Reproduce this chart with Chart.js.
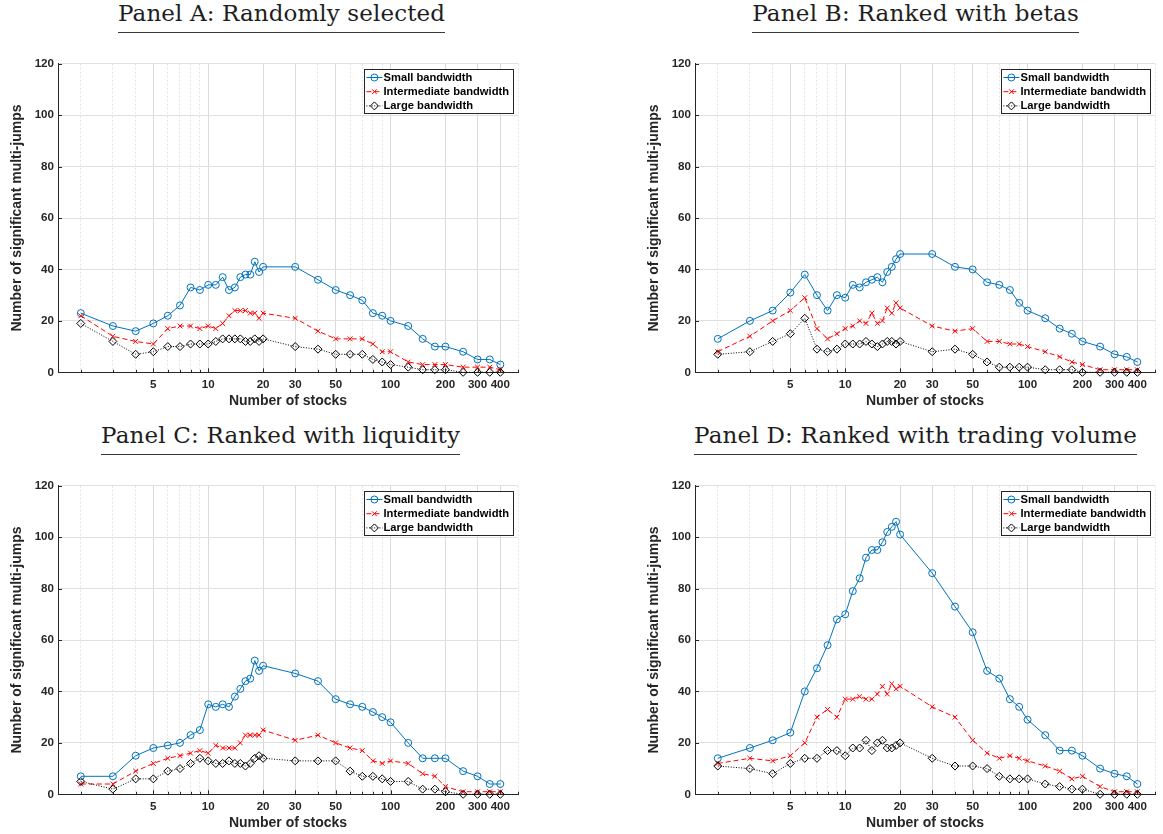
<!DOCTYPE html>
<html>
<head>
<meta charset="utf-8">
<script src="https://cdn.jsdelivr.net/npm/chart.js@4.4.1/dist/chart.umd.min.js"></script>
<style>
  html, body { margin: 0; padding: 0; background: #fff; width: 1163px; height: 834px; overflow: hidden; }
  canvas { position: absolute; }
  .ptitle {
    position: absolute; font-family: 'DejaVu Serif', 'Liberation Serif', serif; font-size: 23px;
    line-height: 23px; color: #1e1e1e; text-align: center; white-space: nowrap;
    border-bottom: 1.4px solid #3a3a3a; padding-bottom: 7px;
  }
</style>
</head>
<body>
<div class="ptitle" id="tA" style="left:118px; top:2px; width:327px;"><span>Panel A: Randomly selected</span></div>
<div class="ptitle" id="tB" style="left:752px; top:2px; width:327px;"><span>Panel B: Ranked with betas</span></div>
<div class="ptitle" id="tC" style="left:101px; top:424px; width:359px;"><span>Panel C: Ranked with liquidity</span></div>
<div class="ptitle" id="tD" style="left:694px; top:424px; width:443px;"><span>Panel D: Ranked with trading volume</span></div>

<canvas id="cA" width="530" height="372" style="left:0px; top:40px;"></canvas>
<canvas id="cB" width="530" height="372" style="left:637px; top:40px;"></canvas>
<canvas id="cC" width="530" height="372" style="left:0px; top:462px;"></canvas>
<canvas id="cD" width="530" height="372" style="left:637px; top:462px;"></canvas>

<script>
// Portfolio sizes (number of stocks) on the horizontal axis
const STOCKS = [2, 3, 4, 5, 6, 7, 8, 9, 10, 11, 12, 13, 14, 15, 16, 17, 18, 19, 20,
                30, 40, 50, 60, 70, 80, 90, 100, 125, 150, 175, 200, 250, 300, 350, 400];

const SERIES_LABELS = ['Small bandwidth', 'Intermediate bandwidth', 'Large bandwidth'];

// Panel A: randomly selected
const A_SMALL = [23, 18, 16, 19, 22, 26, 33, 32, 34, 34, 37, 32, 33, 37, 38, 38, 43, 39, 41,
                 41, 36, 32, 30, 28, 23, 22, 20, 18, 13, 10, 10, 8, 5, 5, 3];
const A_INTER = [22, 14, 12, 11, 17, 18, 18, 17, 18, 17, 19, 22, 24, 24, 24, 23, 23, 21, 23,
                 21, 16, 13, 13, 13, 11, 8, 8, 4, 3, 3, 3, 2, 2, 2, 1];
const A_LARGE = [19, 12, 7, 8, 10, 10, 11, 11, 11, 12, 13, 13, 13, 13, 12, 12, 13, 12, 13,
                 10, 9, 7, 7, 7, 5, 4, 3, 2, 1, 1, 1, 0, 0, 0, 0];

// Panel B: ranked with betas
const B_SMALL = [13, 20, 24, 31, 38, 30, 24, 30, 29, 34, 33, 35, 36, 37, 35, 39, 41, 44, 46,
                 46, 41, 40, 35, 34, 32, 27, 24, 21, 17, 15, 12, 10, 7, 6, 4];
const B_INTER = [8, 14, 20, 24, 29, 17, 13, 15, 17, 18, 20, 19, 23, 19, 20, 25, 23, 27, 25,
                 18, 16, 17, 12, 12, 11, 11, 10, 8, 6, 4, 3, 1, 1, 1, 1];
const B_LARGE = [7, 8, 12, 15, 21, 9, 8, 9, 11, 11, 11, 12, 11, 10, 11, 12, 12, 11, 12,
                 8, 9, 7, 4, 2, 2, 2, 2, 1, 1, 1, 0, 0, 0, 0, 0];

// Panel C: ranked with liquidity
const C_SMALL = [7, 7, 15, 18, 19, 20, 23, 25, 35, 34, 35, 34, 38, 41, 44, 45, 52, 48, 50,
                 47, 44, 37, 35, 34, 32, 30, 28, 20, 14, 14, 14, 9, 7, 4, 4];
const C_INTER = [4, 4, 9, 12, 14, 15, 16, 17, 16, 19, 18, 18, 18, 20, 23, 23, 23, 23, 25,
                 21, 23, 20, 18, 17, 13, 12, 13, 12, 8, 7, 3, 1, 1, 1, 1];
const C_LARGE = [5, 2, 6, 6, 9, 10, 12, 14, 13, 12, 12, 13, 12, 12, 11, 12, 14, 15, 14,
                 13, 13, 13, 9, 7, 7, 6, 5, 5, 2, 2, 1, 0, 0, 0, 0];

// Panel D: ranked with trading volume
const D_SMALL = [14, 18, 21, 24, 40, 49, 58, 68, 70, 79, 84, 92, 95, 95, 98, 102, 104, 106, 101,
                 86, 73, 63, 48, 45, 37, 34, 29, 23, 17, 17, 15, 10, 8, 7, 4];
const D_INTER = [12, 14, 13, 15, 20, 30, 33, 30, 37, 37, 38, 37, 37, 39, 42, 39, 43, 41, 42,
                 34, 30, 21, 16, 14, 15, 14, 13, 11, 9, 6, 7, 3, 1, 1, 1];
const D_LARGE = [11, 10, 8, 12, 14, 14, 17, 17, 15, 18, 18, 21, 17, 20, 21, 18, 18, 19, 20,
                 14, 11, 11, 10, 7, 6, 6, 6, 4, 3, 2, 2, 0, 0, 0, 0];

// Axis ticks
const X_LABELS = [5, 10, 20, 30, 50, 100, 200, 300, 400];
const X_GRID = [2, 3, 4, 5, 6, 7, 8, 9, 10, 20, 30, 40, 50, 60, 70, 80, 90, 100, 200, 300, 400, 500];
const Y_TICKS = [0, 20, 40, 60, 80, 100, 120];

const AXIS_COLOR = '#262626';
const SANS = '"Liberation Sans", Arial, Helvetica, sans-serif';
Chart.defaults.font.family = SANS;

function drawMarker(ctx, style, radius, color, x, y) {
  ctx.save();
  ctx.setLineDash([]);
  ctx.strokeStyle = color; ctx.lineWidth = 1;
  ctx.beginPath();
  if (style === 'circle') {
    ctx.arc(x, y, radius, 0, Math.PI * 2);
  } else if (style === 'crossRot') {
    const d = radius * Math.SQRT1_2;
    ctx.moveTo(x - d, y - d); ctx.lineTo(x + d, y + d);
    ctx.moveTo(x + d, y - d); ctx.lineTo(x - d, y + d);
  } else {
    ctx.moveTo(x, y - radius); ctx.lineTo(x + radius, y);
    ctx.lineTo(x, y + radius); ctx.lineTo(x - radius, y); ctx.closePath();
  }
  ctx.stroke();
  ctx.restore();
}

// inward tick marks and the boxed legend in the upper right of each panel
const panelDecor = {
  id: 'panelDecor',
  afterDatasetsDraw(chart) {
    const { ctx, chartArea: a, scales: { x, y } } = chart;
    ctx.save();
    ctx.strokeStyle = AXIS_COLOR; ctx.lineWidth = 1;
    ctx.beginPath();
    for (const v of Y_TICKS) {
      const py = Math.round(y.getPixelForValue(v)) + 0.5;
      ctx.moveTo(a.left, py); ctx.lineTo(a.left + 4, py);
    }
    for (const v of X_GRID) {
      const px = Math.round(x.getPixelForValue(v)) + 0.5;
      ctx.moveTo(px, a.bottom); ctx.lineTo(px, a.bottom - (X_LABELS.includes(v) ? 4 : 2.5));
    }
    ctx.stroke();

    // legend
    const sets = chart.data.datasets;
    ctx.font = 'bold 11.2px ' + SANS;
    const tw = Math.max(...sets.map(d => ctx.measureText(d.label).width));
    const w = Math.round(19.5 + tw + 4), h = 44;
    const bx = Math.round(a.right - 4.7 - w), by = Math.round(a.top + 5);
    ctx.fillStyle = '#fff';
    ctx.fillRect(bx, by, w, h);
    ctx.strokeStyle = AXIS_COLOR;
    ctx.strokeRect(bx + 0.5, by + 0.5, w, h);
    sets.forEach((d, i) => {
      const cy = by + 8.5 + i * 14.2;
      ctx.save();
      ctx.strokeStyle = d.borderColor; ctx.lineWidth = 1;
      ctx.setLineDash(d.borderDash || []);
      ctx.beginPath(); ctx.moveTo(bx + 2.4, cy); ctx.lineTo(bx + 18.4, cy); ctx.stroke();
      ctx.restore();
      drawMarker(ctx, d.pointStyle, d.pointRadius, d.pointBorderColor, bx + 10.4, cy);
      ctx.fillStyle = '#000';
      ctx.textBaseline = 'middle'; ctx.textAlign = 'left';
      ctx.fillText(d.label, bx + 19.5, cy + 0.5);
    });
    ctx.restore();
  }
};

function panelConfig(small, inter, large) {
  const pts = vals => STOCKS.map((s, i) => ({ x: s, y: vals[i] }));
  const common = { borderWidth: 1, tension: 0, clip: false, fill: false, pointBorderWidth: 1,
                   pointBackgroundColor: 'rgba(0,0,0,0)', pointHoverRadius: 0 };
  const isMajor = c => c.tick && X_LABELS.includes(c.tick.value);
  return {
    type: 'line',
    data: {
      datasets: [
        Object.assign({}, common, { label: SERIES_LABELS[0], data: pts(small), borderColor: '#0072BD',
          pointBorderColor: '#0072BD', pointStyle: 'circle', pointRadius: 3.5, order: 3 }),
        Object.assign({}, common, { label: SERIES_LABELS[1], data: pts(inter), borderColor: '#FF0000',
          borderDash: [5, 3], pointBorderColor: '#FF0000', pointStyle: 'crossRot', pointRadius: 3.4, order: 2 }),
        Object.assign({}, common, { label: SERIES_LABELS[2], data: pts(large), borderColor: '#000000',
          borderDash: [1, 1.6], pointBorderColor: '#000000', pointStyle: 'rectRot', pointRadius: 4, order: 1 })
      ]
    },
    options: {
      responsive: false, animation: false, devicePixelRatio: 1,
      events: [],
      layout: { padding: { left: 0, right: 12, top: 23.7, bottom: 0 } },
      plugins: { legend: { display: false }, tooltip: { enabled: false } },
      scales: {
        x: {
          type: 'logarithmic', position: 'bottom', min: 1.5, max: 500, bounds: 'data',
          afterBuildTicks: s => { s.ticks = X_GRID.map(v => ({ value: v })); },
          afterFit: s => { s.height = 39.7; },
          ticks: { autoSkip: false, maxRotation: 0, minRotation: 0, padding: 5.7, color: AXIS_COLOR,
                   font: { size: 11.6, weight: 'bold' },
                   callback: v => X_LABELS.includes(v) ? String(v) : '' },
          grid: { drawTicks: false, lineWidth: 1, color: c => isMajor(c) ? '#dadada' : '#e4e4e4' },
          border: { display: true, color: AXIS_COLOR, width: 1, dash: c => isMajor(c) ? [] : [2, 2] },
          title: { display: true, text: 'Number of stocks', color: AXIS_COLOR,
                   font: { size: 14, weight: 'bold' }, padding: { top: 0, bottom: 2.1 } }
        },
        y: {
          type: 'linear', min: 0, max: 120,
          afterFit: s => { s.width = 58; },
          ticks: { stepSize: 20, padding: 4, color: AXIS_COLOR, font: { size: 11.6, weight: 'bold' } },
          grid: { drawTicks: false, lineWidth: 1, color: '#e0e0e0' },
          border: { display: true, color: AXIS_COLOR, width: 1 },
          title: { display: true, text: 'Number of significant multi-jumps', color: AXIS_COLOR,
                   font: { size: 14, weight: 'bold' }, padding: { top: 8.6, bottom: 0 } }
        }
      }
    },
    plugins: [panelDecor]
  };
}

new Chart(document.getElementById('cA'), panelConfig(A_SMALL, A_INTER, A_LARGE));
new Chart(document.getElementById('cB'), panelConfig(B_SMALL, B_INTER, B_LARGE));
new Chart(document.getElementById('cC'), panelConfig(C_SMALL, C_INTER, C_LARGE));
new Chart(document.getElementById('cD'), panelConfig(D_SMALL, D_INTER, D_LARGE));

// stretch each panel heading to the width of its underline
document.querySelectorAll('.ptitle').forEach(div => {
  const span = div.querySelector('span');
  const target = div.clientWidth;
  const w = span.getBoundingClientRect().width;
  const n = span.textContent.length;
  const ls = (target - w) / n;
  span.style.letterSpacing = ls.toFixed(2) + 'px';
  span.style.marginRight = (-ls).toFixed(2) + 'px';
});
</script>
</body>
</html>
